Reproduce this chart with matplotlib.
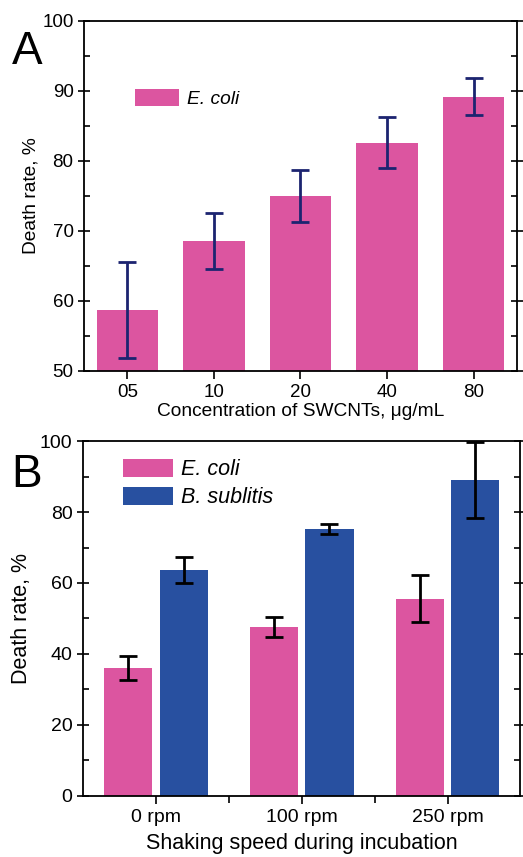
import matplotlib
matplotlib.use("Agg")
import matplotlib.pyplot as plt
import numpy as np
from matplotlib.ticker import MultipleLocator
from matplotlib.patches import Patch

plt.rcParams['font.family'] = ['Liberation Sans', 'DejaVu Sans']

# Panel A data
conc_labels = ["05", "10", "20", "40", "80"]
ecoli_a = [58.7, 68.5, 75.0, 82.6, 89.2]
ecoli_a_err = [6.9, 4.0, 3.65, 3.65, 2.7]

# Panel B data
speed_labels = ["0 rpm", "100 rpm", "250 rpm"]
ecoli_b = [36.0, 47.6, 55.6]
ecoli_b_err = [3.4, 2.85, 6.7]
bsub_b = [63.7, 75.2, 89.0]
bsub_b_err = [3.7, 1.3, 10.65]

pink = "#dc55a0"
blue = "#2850a0"
navy = "#1c2470"

fig = plt.figure(figsize=(5.23, 8.57), dpi=100)


def style_axis(ax, tfs):
    for s in ax.spines.values():
        s.set_linewidth(1.3)
    ax.tick_params(axis='y', which='major', direction='inout', length=8, width=1.2,
                   right=True, labelsize=tfs)
    ax.tick_params(axis='y', which='minor', direction='in', length=4, width=1.2, right=True)
    ax.tick_params(axis='x', which='major', direction='out', length=6, width=1.2,
                   labelsize=tfs, top=False)

# Panel A
fsA_t = 13.5
fsA_l = 13.8
axA = fig.add_axes([0.1606, 0.5671, 0.8279, 0.4084])
xa = np.arange(len(conc_labels))
axA.bar(xa, ecoli_a, width=0.71, color=pink, zorder=2)
axA.errorbar(xa, ecoli_a, yerr=ecoli_a_err, fmt='none', ecolor=navy, elinewidth=2,
             capsize=6.5, capthick=2, zorder=3)
axA.set_xlim(-0.5, 4.5)
axA.set_ylim(50, 100)
axA.set_xticks(xa)
axA.set_xticklabels(conc_labels)
axA.yaxis.set_major_locator(MultipleLocator(10))
axA.yaxis.set_minor_locator(MultipleLocator(5))
style_axis(axA, fsA_t)
axA.set_ylabel("Death rate, %", fontsize=fsA_l, labelpad=2)
axA.set_xlabel("Concentration of SWCNTs, \u03bcg/mL", fontsize=fsA_l, labelpad=1)
axA.legend(handles=[Patch(facecolor=pink, edgecolor='none', label="E. coli")],
           loc='upper left', bbox_to_anchor=(0.118, 0.805), frameon=False,
           borderpad=0, borderaxespad=0,
           prop={'size': fsA_l, 'style': 'italic'}, handlelength=2.3, handleheight=0.95,
           handletextpad=0.4)
fig.text(0.022, 0.925, "A", fontsize=33)

# Panel B
fsB_t = 14
fsB_l = 15.5
axB = fig.add_axes([0.1587, 0.0712, 0.8365, 0.4142])
xb = np.arange(len(speed_labels))
off = 0.19
w = 0.33
axB.bar(xb - off, ecoli_b, width=w, color=pink, zorder=2, label="E. coli")
axB.bar(xb + off, bsub_b, width=w, color=blue, zorder=2, label="B. sublitis")
axB.errorbar(xb - off, ecoli_b, yerr=ecoli_b_err, fmt='none', ecolor='black', elinewidth=2,
             capsize=6.5, capthick=2, zorder=3)
axB.errorbar(xb + off, bsub_b, yerr=bsub_b_err, fmt='none', ecolor='black', elinewidth=2,
             capsize=6.5, capthick=2, zorder=3)
axB.set_xlim(-0.5, 2.5)
axB.set_ylim(0, 100)
axB.set_xticks(xb)
axB.set_xticks([0.5, 1.5], minor=True)
axB.set_xticklabels(speed_labels)
axB.yaxis.set_major_locator(MultipleLocator(20))
axB.yaxis.set_minor_locator(MultipleLocator(10))
style_axis(axB, fsB_t)
axB.tick_params(axis='x', which='minor', direction='out', length=5, width=1.2, top=False)
axB.set_ylabel("Death rate, %", fontsize=fsB_l, labelpad=6)
axB.set_xlabel("Shaking speed during incubation", fontsize=fsB_l, labelpad=5)
axB.legend(loc='upper left', bbox_to_anchor=(0.092, 0.95), frameon=False,
           borderpad=0, borderaxespad=0,
           prop={'size': fsB_l, 'style': 'italic'}, handlelength=2.3, handleheight=0.93,
           handletextpad=0.4, labelspacing=0.3)
fig.text(0.022, 0.432, "B", fontsize=33)

fig.savefig("out.png", dpi=100)
